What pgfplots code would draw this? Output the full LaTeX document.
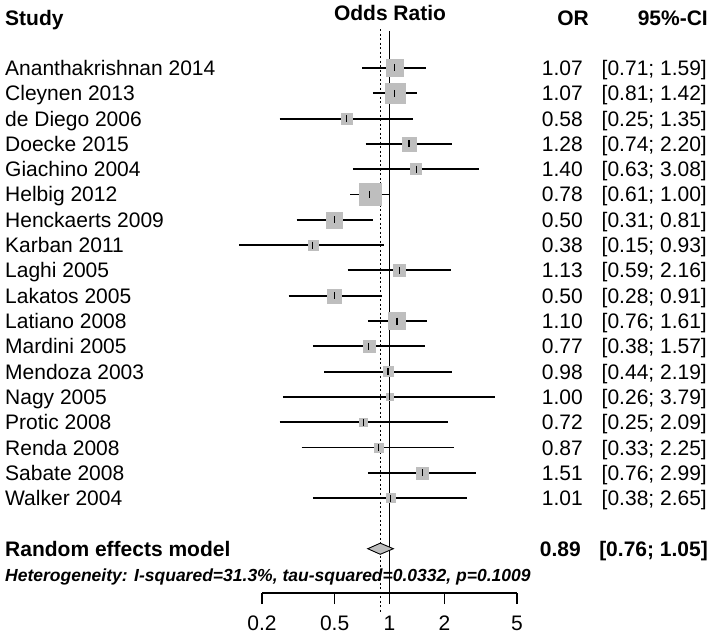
\documentclass[border=0pt]{standalone}
\usepackage{pgfplots}
\pgfplotsset{compat=1.18}
\usepackage{pgfplotstable}
\usepackage{fontspec}
\setmainfont{Liberation Sans}
\definecolor{sqgray}{HTML}{BEBEBE}
\newcommand\ff{\fontsize{21}{25}\selectfont}

% or lo hi row squareside(px)
\pgfplotstableread{
or   lo   hi   k  sz
1.07 0.71 1.59 1  17
1.07 0.81 1.42 2  20
0.58 0.25 1.35 3  11
1.28 0.74 2.20 4  14
1.40 0.63 3.08 5  11
0.78 0.61 1.00 6  22
0.50 0.31 0.81 7  16
0.38 0.15 0.93 8  10
1.13 0.59 2.16 9  12
0.50 0.28 0.91 10 14
1.10 0.76 1.61 11 17
0.77 0.38 1.57 12 12
0.98 0.44 2.19 13 10
1.00 0.26 3.79 14 7
0.72 0.25 2.09 15 8
0.87 0.33 2.25 16 9
1.51 0.76 2.99 17 12
1.01 0.38 2.65 18 9
}\studies

\begin{document}
\begin{tikzpicture}[x=1pt,y=1pt]
\useasboundingbox (0,0) rectangle (711,637);
\begin{axis}[
  at={(262pt,44pt)}, anchor=south west,
  scale only axis, width=255pt, height=562pt,
  xmode=log, xmin=0.2, xmax=5,
  ymin=-21.75, ymax=0.462,
  clip=false,
  axis x line=bottom, axis y line=none,
  x axis line style={-},
  axis line style={line width=1.4pt},
  xtick={0.2,0.5,1,2,5}, xticklabels={0.2,0.5,1,2,5},
  xminorticks=false,
  xtick align=outside, major tick length=11pt,
  every tick/.style={black, line width=1.4pt},
  xticklabel style={font=\ff, inner sep=0pt, yshift=-12pt},
]
% reference lines
\addplot[black, line width=1.5pt] coordinates {(1,0.462) (1,-21.75)};
\addplot[black, line width=1.4pt, dash pattern=on 2pt off 2.5pt] coordinates {(0.89,0.54) (0.89,-22.54)};
% squares
\addplot[only marks, scatter, mark=square*,
  scatter/use mapped color={draw=sqgray, fill=sqgray},
  visualization depends on={0.5*\thisrow{sz} \as \hs},
  scatter/@pre marker code/.append style={/tikz/mark size=\hs}]
  table[x=or, y expr=-\thisrow{k}] {\studies};
% confidence intervals
\addplot[black, line width=1.9pt, unbounded coords=jump] coordinates {
(0.71,-1) (1.59,-1) (nan,nan)
(0.81,-2) (1.42,-2) (nan,nan)
(0.25,-3) (1.35,-3) (nan,nan)
(0.74,-4) (2.20,-4) (nan,nan)
(0.63,-5) (3.08,-5) (nan,nan)
(0.61,-6) (1.00,-6) (nan,nan)
(0.31,-7) (0.81,-7) (nan,nan)
(0.15,-8) (0.93,-8) (nan,nan)
(0.59,-9) (2.16,-9) (nan,nan)
(0.28,-10) (0.91,-10) (nan,nan)
(0.76,-11) (1.61,-11) (nan,nan)
(0.38,-12) (1.57,-12) (nan,nan)
(0.44,-13) (2.19,-13) (nan,nan)
(0.26,-14) (3.79,-14) (nan,nan)
(0.25,-15) (2.09,-15) (nan,nan)
(0.33,-16) (2.25,-16) (nan,nan)
(0.76,-17) (2.99,-17) (nan,nan)
(0.38,-18) (2.65,-18)
};
% point estimates
\addplot[only marks, mark=|, mark size=3.5pt, mark options={black, line width=1.2pt}]
  table[x=or, y expr=-\thisrow{k}] {\studies};
% summary diamond
\addplot[fill=sqgray, draw=black, line width=0.9pt] coordinates {(0.76,-20) (0.89,-19.78) (1.05,-20) (0.89,-20.22)} -- cycle;
\end{axis}

\tikzset{every node/.style={inner sep=0pt}}
\node[anchor=base west, font=\ff\bfseries] at (5,611) {Study};
\node[anchor=base, font=\ff\bfseries] at (390,616) {Odds Ratio};
\node[anchor=base east, font=\ff\bfseries] at (589,611) {OR};
\node[anchor=base east, font=\ff\bfseries] at (708,611) {95\%-CI};

\foreach \n/\o/\c [count=\k] in {
Ananthakrishnan 2014/1.07/{[0.71; 1.59]},
Cleynen 2013/1.07/{[0.81; 1.42]},
de Diego 2006/0.58/{[0.25; 1.35]},
Doecke 2015/1.28/{[0.74; 2.20]},
Giachino 2004/1.40/{[0.63; 3.08]},
Helbig 2012/0.78/{[0.61; 1.00]},
Henckaerts 2009/0.50/{[0.31; 0.81]},
Karban 2011/0.38/{[0.15; 0.93]},
Laghi 2005/1.13/{[0.59; 2.16]},
Lakatos 2005/0.50/{[0.28; 0.91]},
Latiano 2008/1.10/{[0.76; 1.61]},
Mardini 2005/0.77/{[0.38; 1.57]},
Mendoza 2003/0.98/{[0.44; 2.19]},
Nagy 2005/1.00/{[0.26; 3.79]},
Protic 2008/0.72/{[0.25; 2.09]},
Renda 2008/0.87/{[0.33; 2.25]},
Sabate 2008/1.51/{[0.76; 2.99]},
Walker 2004/1.01/{[0.38; 2.65]}}{
  \pgfmathsetmacro\yy{586.8-25.3*\k}
  \node[anchor=base west, font=\ff] at (5,\yy) {\n};
  \node[anchor=base east, font=\ff] at (583,\yy) {\o};
  \node[anchor=base east, font=\ff] at (707,\yy) {\c};
}

\node[anchor=base west, font=\ff\bfseries] at (5,81) {Random effects model};
\node[anchor=base east, font=\ff\bfseries] at (581,81) {0.89};
\node[anchor=base east, font=\ff\bfseries] at (708,81) {[0.76; 1.05]};
\node[anchor=base west, font=\fontsize{17.5}{20}\selectfont\bfseries\itshape] at (5,56)
  {Heterogeneity: I-squared=31.3\%, tau-squared=0.0332, p=0.1009};
\end{tikzpicture}
\end{document}
